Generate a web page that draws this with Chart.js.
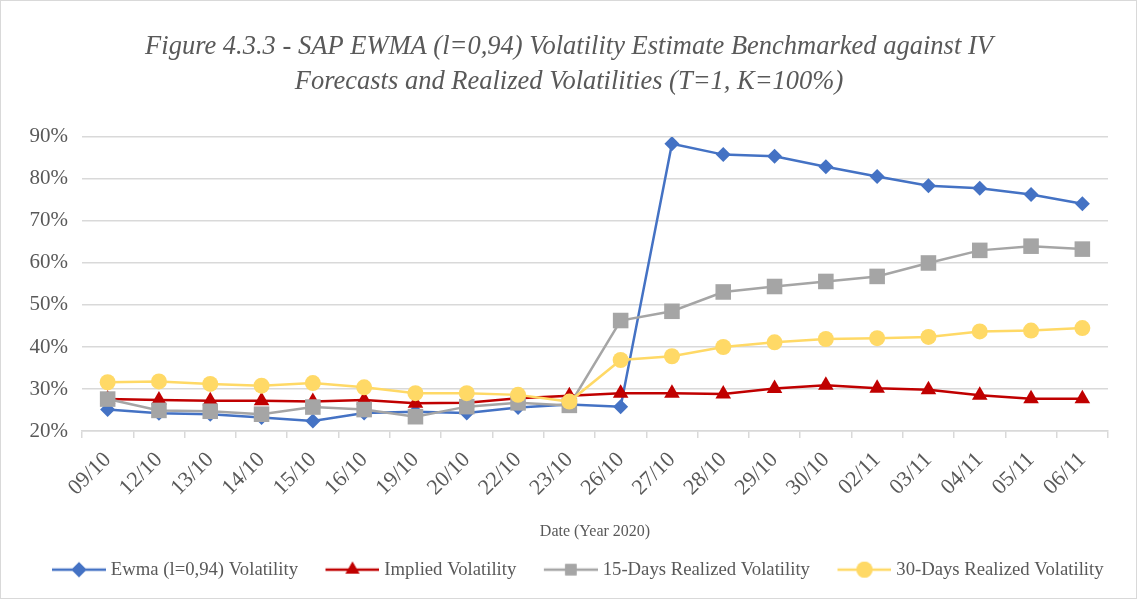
<!DOCTYPE html>
<html>
<head>
<meta charset="utf-8">
<script src="https://cdn.jsdelivr.net/npm/chart.js@4.4.1/dist/chart.umd.min.js"></script>
<style>
  html, body { margin: 0; padding: 0; background: #fff; }
  #wrap { width: 1137px; height: 599px; position: relative; }
</style>
</head>
<body>
<div id="wrap"><canvas id="volChart" width="1137" height="599"></canvas></div>
<script>
// Dates (Year 2020)
const dates = ['09/10', '12/10', '13/10', '14/10', '15/10', '16/10', '19/10', '20/10', '22/10', '23/10',
               '26/10', '27/10', '28/10', '29/10', '30/10', '02/11', '03/11', '04/11', '05/11', '06/11'];

// Volatilities in %
const ewmaVol     = [25.1, 24.2, 24.0, 23.2, 22.4, 24.3, 24.6, 24.3, 25.6, 26.3, 25.8, 88.4, 85.8, 85.4, 82.9, 80.6, 78.4, 77.8, 76.3, 74.1];
const impliedVol  = [27.6, 27.4, 27.2, 27.2, 27.0, 27.4, 26.6, 26.7, 27.8, 28.4, 29.0, 29.0, 28.8, 30.1, 30.9, 30.2, 29.8, 28.5, 27.7, 27.7];
const realized15  = [27.6, 24.9, 24.7, 24.0, 25.7, 25.1, 23.4, 25.8, 26.7, 26.1, 46.3, 48.5, 53.1, 54.4, 55.6, 56.8, 60.0, 63.0, 64.0, 63.3];
const realized30  = [31.6, 31.8, 31.2, 30.8, 31.4, 30.4, 29.0, 29.0, 28.6, 27.0, 36.9, 37.8, 40.0, 41.1, 41.9, 42.1, 42.4, 43.7, 43.9, 44.5];

const yTicks = [20, 30, 40, 50, 60, 70, 80, 90];

const FONT = "'Liberation Serif', 'Times New Roman', serif";
const TEXT_COLOR = '#595959';
const GRID_COLOR = '#d9d9d9';

// legende facon Excel : ligne + marqueur, cale a droite de l'image
const LEGEND_BOX = 67;
const LEGEND_IMG = 76;
function legendIcon(color, style, radius) {
    const c = document.createElement('canvas');
    c.width = LEGEND_IMG;
    c.height = 20;
    const ctx = c.getContext('2d');
    const x0 = LEGEND_IMG - 54;
    ctx.strokeStyle = color;
    ctx.lineWidth = 2.5;
    ctx.beginPath();
    ctx.moveTo(x0, 10);
    ctx.lineTo(LEGEND_IMG, 10);
    ctx.stroke();
    ctx.fillStyle = color;
    Chart.helpers.drawPoint(ctx, { pointStyle: style, radius: radius, rotation: 0, borderWidth: 0 }, x0 + 27, 10);
    ctx.fill();
    return c;
}

function series(label, data, color, style, radius, order) {
    return {
        label: label,
        data: data,
        borderColor: color,
        backgroundColor: color,
        borderWidth: 2.5,
        pointStyle: style,
        pointRadius: radius,
        pointHoverRadius: radius,
        pointBorderWidth: 0,
        tension: 0,
        order: order
    };
}

const datasets = [
    series('Ewma (l=0,94) Volatility', ewmaVol, '#4472C4', 'rectRot', 7.5, 4),
    series('Implied Volatility', impliedVol, '#C00000', 'triangle', 9, 3),
    series('15-Days Realized Volatility', realized15, '#A5A5A5', 'rect', 11, 2),
    series('30-Days Realized Volatility', realized30, '#FFD966', 'circle', 8, 1)
];

const LEGEND_SHIFT = 15;
const TITLE_SHIFT = 15;

const framePlugin = {
    id: 'frame',
    afterLayout(chart) {
        // recentrer titre et legende sur toute la largeur, comme dans l'original
        chart.legend.left += LEGEND_SHIFT;
        chart.legend.right += LEGEND_SHIFT;
        chart.titleBlock.left += TITLE_SHIFT;
        chart.titleBlock.right += TITLE_SHIFT;
    },
    afterDraw(chart) {
        const ctx = chart.ctx;
        ctx.save();
        ctx.strokeStyle = GRID_COLOR;
        ctx.lineWidth = 1;
        ctx.strokeRect(0.5, 0.5, chart.width - 1, chart.height - 1);
        ctx.restore();
    }
};

new Chart(document.getElementById('volChart'), {
    type: 'line',
    data: { labels: dates, datasets: datasets },
    plugins: [framePlugin],
    options: {
        responsive: false,
        animation: false,
        layout: { padding: { left: 0, right: 29, top: 0, bottom: 10 } },
        plugins: {
            title: {
                display: true,
                text: ['Figure 4.3.3 - SAP EWMA (l=0,94) Volatility Estimate Benchmarked against IV',
                       'Forecasts and Realized Volatilities (T=1, K=100%)'],
                color: TEXT_COLOR,
                font: { family: FONT, size: 26.5, style: 'italic', weight: 'normal', lineHeight: 1.32 },
                padding: { top: 30, bottom: 37 }
            },
            legend: {
                position: 'bottom',
                labels: {
                    color: TEXT_COLOR,
                    font: { family: FONT, size: 18.7 },
                    usePointStyle: true,
                    pointStyleWidth: LEGEND_BOX,
                    padding: 10,
                    sort: (a, b) => a.datasetIndex - b.datasetIndex,
                    generateLabels(chart) {
                        return chart.data.datasets.map((ds, i) => ({
                            text: ds.label,
                            fontColor: TEXT_COLOR,
                            pointStyle: legendIcon(ds.borderColor, ds.pointStyle, Math.min(ds.pointRadius, 8)),
                            datasetIndex: i,
                            lineWidth: 0,
                            strokeStyle: ds.borderColor,
                            fillStyle: ds.borderColor
                        }));
                    }
                }
            },
            tooltip: { enabled: false }
        },
        scales: {
            x: {
                offset: true,
                grid: {
                    offset: true,
                    drawOnChartArea: false,
                    drawTicks: true,
                    tickLength: 7,
                    color: GRID_COLOR,
                    lineWidth: 1.5
                },
                border: { display: true, color: GRID_COLOR, width: 1.5 },
                ticks: {
                    color: TEXT_COLOR,
                    font: { family: FONT, size: 22 },
                    minRotation: 45,
                    maxRotation: 45,
                    autoSkip: false,
                    padding: 9
                },
                title: {
                    display: true,
                    text: 'Date (Year 2020)',
                    color: TEXT_COLOR,
                    font: { family: FONT, size: 16 },
                    padding: { top: 12, bottom: 9 }
                }
            },
            y: {
                min: 20,
                max: 90,
                afterBuildTicks(scale) {
                    scale.ticks = yTicks.map(v => ({ value: v }));
                },
                afterFit(scale) {
                    scale.width = 82;
                },
                grid: { color: GRID_COLOR, lineWidth: 1.5, drawTicks: false },
                border: { display: false },
                ticks: {
                    color: TEXT_COLOR,
                    font: { family: FONT, size: 21 },
                    padding: 14,
                    callback: v => v + '%'
                }
            }
        }
    }
});
</script>
</body>
</html>
